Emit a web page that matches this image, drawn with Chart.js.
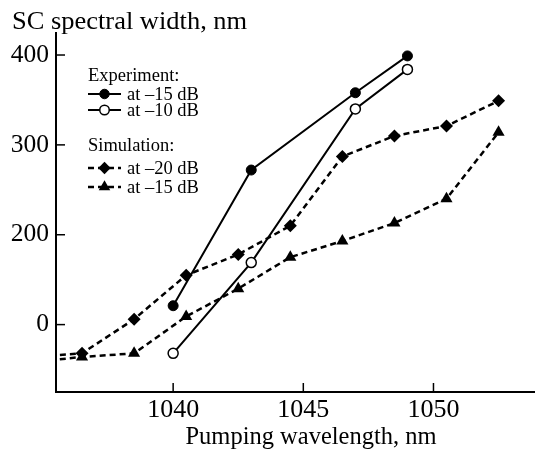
<!DOCTYPE html>
<html><head><meta charset="utf-8">
<script src="https://cdn.jsdelivr.net/npm/chart.js@4.4.0/dist/chart.umd.min.js"></script>
<style>html,body{margin:0;padding:0;background:#fff;} #wrap{width:535px;height:454px;position:relative;}</style>
</head><body><div id="wrap"><canvas id="c" width="535" height="454"></canvas></div>
<script>
// Data. The vertical scale is linear; its printed labels are 0, 200, 300, 400
// at evenly spaced ticks (the "0" tick sits one step below 200), so values are in that linear scale.
const expWl = [1040.0, 1043.0, 1047.0, 1049.0];
const exp15 = [121, 272, 358, 399];
const exp10 = [68, 169, 340, 384];
const simWl = [1034.5, 1036.5, 1038.5, 1040.5, 1042.5, 1044.5, 1046.5, 1048.5, 1050.5, 1052.5];
const sim20 = [64, 68, 106, 155, 178, 210, 287, 310, 321, 349];
const sim15 = [58, 64, 68, 109, 140, 175, 193, 213, 240, 314];
const xTickValues = [1040, 1045, 1050];
const yTickValues = [100, 200, 300, 400];
const yTickLabels = ['0', '200', '300', '400'];
const seriesNames = ['at \u201315 dB', 'at \u201310 dB', 'at \u201320 dB', 'at \u201315 dB'];
const groupNames = ['Experiment:', 'Simulation:'];
const xTitle = 'Pumping wavelength, nm';
const yTitle = 'SC spectral width, nm';

const FONT = "'Liberation Serif', 'Times New Roman', serif";
const pts = (xs, ys) => xs.map((x, i) => ({x: x, y: ys[i]}));

const datasets = [
  {label: seriesNames[0], data: pts(expWl, exp15), borderColor: '#000', backgroundColor: '#000',
   borderWidth: 2, pointStyle: 'circle', pointRadius: 5, pointBorderWidth: 1, pointBackgroundColor: '#000', pointBorderColor: '#000'},
  {label: seriesNames[1], data: pts(expWl, exp10), borderColor: '#000', backgroundColor: '#fff',
   borderWidth: 2, pointStyle: 'circle', pointRadius: 5, pointBorderWidth: 1.5, pointBackgroundColor: '#fff', pointBorderColor: '#000'},
  {label: seriesNames[2], data: pts(simWl, sim20), borderColor: '#000', backgroundColor: '#000',
   borderWidth: 2.5, borderDash: [6, 4], pointStyle: 'rectRot', pointRadius: 6.5, pointBorderWidth: 0, pointBackgroundColor: '#000', pointBorderColor: '#000'},
  {label: seriesNames[3], data: pts(simWl, sim15), borderColor: '#000', backgroundColor: '#000',
   borderWidth: 2.5, borderDash: [6, 4], pointStyle: 'triangle', pointRadius: 7, pointBorderWidth: 0, pointBackgroundColor: '#000', pointBorderColor: '#000'}
];
datasets.forEach(d => { d.showLine = true; d.tension = 0; d.pointHoverRadius = d.pointRadius; });

function marker(ctx, style, x, y, r, fill, bw) {
  ctx.save();
  ctx.beginPath();
  if (style === 'circle') ctx.arc(x, y, r, 0, Math.PI * 2);
  else if (style === 'rectRot') { ctx.moveTo(x - r, y); ctx.lineTo(x, y - r); ctx.lineTo(x + r, y); ctx.lineTo(x, y + r); ctx.closePath(); }
  else if (style === 'triangle') { ctx.moveTo(x, y - r); ctx.lineTo(x + r * 0.866, y + r * 0.5); ctx.lineTo(x - r * 0.866, y + r * 0.5); ctx.closePath(); }
  ctx.fillStyle = fill; ctx.fill();
  if (bw > 0) { ctx.lineWidth = bw; ctx.strokeStyle = '#000'; ctx.stroke(); }
  ctx.restore();
}

function stretchedText(ctx, text, x, y, sx) {
  ctx.save();
  ctx.translate(x, y); ctx.scale(sx, 1);
  ctx.fillText(text, 0, 0);
  ctx.restore();
}

const deco = {
  id: 'deco',
  afterDraw(chart) {
    const ctx = chart.ctx, xs = chart.scales.x, ys = chart.scales.y, ca = chart.chartArea;
    ctx.save();
    ctx.strokeStyle = '#000'; ctx.lineWidth = 1.5;
    xTickValues.forEach(v => { const p = xs.getPixelForValue(v); ctx.beginPath(); ctx.moveTo(p, ca.bottom); ctx.lineTo(p, ca.bottom - 9); ctx.stroke(); });
    yTickValues.forEach(v => { const p = ys.getPixelForValue(v); ctx.beginPath(); ctx.moveTo(ca.left, p); ctx.lineTo(ca.left + 9, p); ctx.stroke(); });
    // titles
    ctx.fillStyle = '#000'; ctx.textBaseline = 'alphabetic';
    ctx.font = '24.5px ' + FONT; ctx.textAlign = 'left';
    stretchedText(ctx, yTitle, 12, 29, 1.08);
    ctx.font = '24.5px ' + FONT; ctx.textAlign = 'center';
    ctx.fillText(xTitle, 311, 444);
    // legend
    ctx.font = '18.5px ' + FONT; ctx.textAlign = 'left'; ctx.textBaseline = 'middle';
    const rows = [
      {head: groupNames[0], y: 76},
      {ds: 0, y: 94}, {ds: 1, y: 110},
      {head: groupNames[1], y: 146},
      {ds: 2, y: 168}, {ds: 3, y: 187}
    ];
    rows.forEach(r => {
      if (r.head) { ctx.fillText(r.head, 88, r.y); return; }
      const d = datasets[r.ds];
      ctx.save();
      ctx.lineWidth = d.borderWidth; ctx.setLineDash(d.borderDash || []);
      ctx.beginPath(); ctx.moveTo(88, r.y); ctx.lineTo(121, r.y); ctx.stroke();
      ctx.restore();
      marker(ctx, d.pointStyle, 104.5, r.y, d.pointRadius * 0.95, d.pointBackgroundColor, d.pointBorderWidth);
      ctx.fillText(d.label, 127, r.y + 1);
    });
    ctx.restore();
  }
};

new Chart(document.getElementById('c'), {
  type: 'scatter',
  data: {datasets: datasets},
  plugins: [deco],
  options: {
    responsive: false, animation: false, devicePixelRatio: 1,
    layout: {autoPadding: false, padding: {top: 33, left: 0, right: 0, bottom: 0}},
    plugins: {legend: {display: false}, tooltip: {enabled: false}},
    scales: {
      x: {
        type: 'linear', min: 1035.5, max: 1053.9,
        afterBuildTicks: s => { s.ticks = xTickValues.map(v => ({value: v})); },
        afterFit: s => { s.height = 62; s.paddingLeft = 0; s.paddingRight = 0; },
        grid: {display: false, drawTicks: false},
        border: {display: true, color: '#000', width: 2},
        ticks: {color: '#000', font: {family: FONT, size: 26}, padding: 3, maxRotation: 0, callback: v => String(v)}
      },
      y: {
        type: 'linear', min: 25, max: 424.5,
        afterBuildTicks: s => { s.ticks = yTickValues.map(v => ({value: v})); },
        afterFit: s => { s.width = 56; s.paddingTop = 0; s.paddingBottom = 0; },
        grid: {display: false, drawTicks: false},
        border: {display: true, color: '#000', width: 2},
        ticks: {color: '#000', font: {family: FONT, size: 25.5}, padding: 7,
          callback: v => { const i = yTickValues.indexOf(v); return i >= 0 ? yTickLabels[i] : ''; }}
      }
    }
  }
});
</script></body></html>
